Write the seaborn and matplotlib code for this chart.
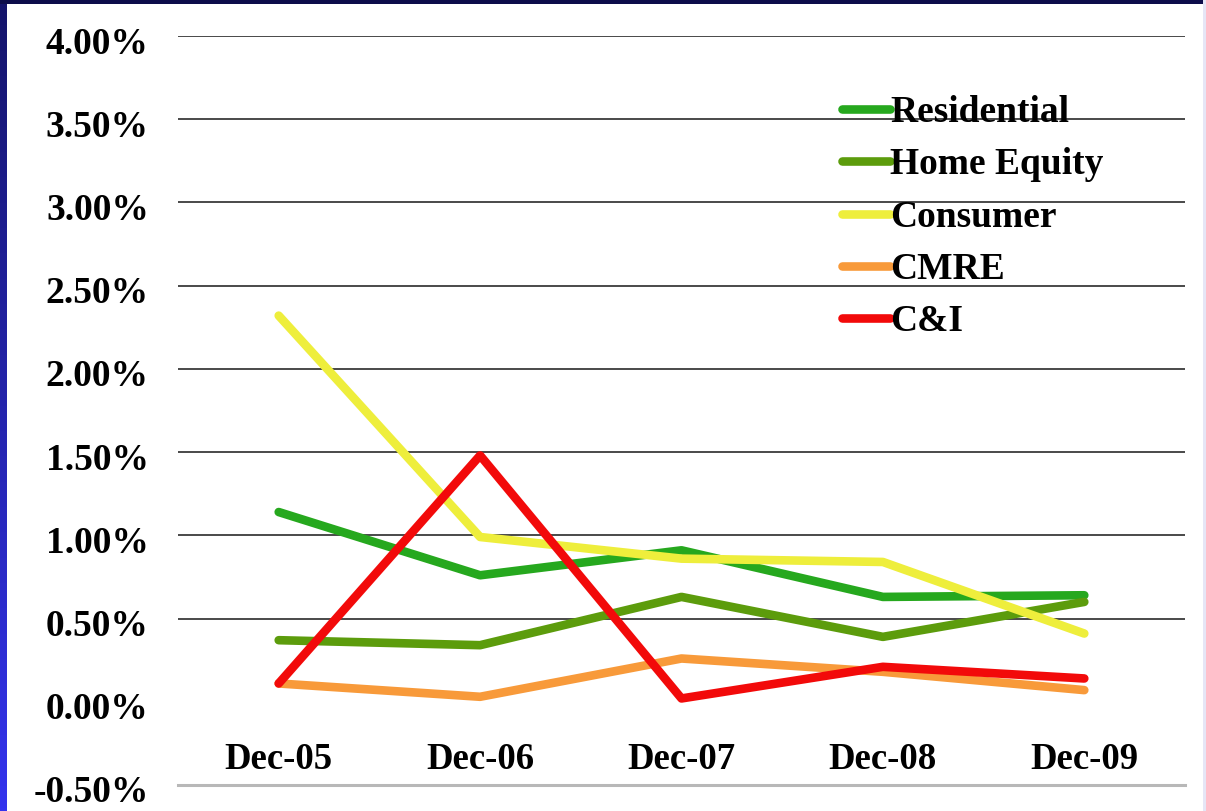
import numpy as np
import pandas as pd
import matplotlib
matplotlib.use("Agg")
import matplotlib.pyplot as plt
import matplotlib.transforms as mtransforms
from matplotlib.patches import Rectangle
import seaborn as sns

# Quarter-end dates on the category axis
periods = ["Dec-05", "Dec-06", "Dec-07", "Dec-08", "Dec-09"]

# Net charge-off rates by loan category (percent)
residential = [1.14, 0.76, 0.91, 0.63, 0.64]
home_equity = [0.37, 0.34, 0.63, 0.39, 0.60]
consumer = [2.32, 0.99, 0.86, 0.84, 0.41]
cmre = [0.11, 0.03, 0.26, 0.18, 0.07]
c_and_i = [0.11, 1.48, 0.02, 0.21, 0.14]

series_names = ["Residential", "Home Equity", "Consumer", "CMRE", "C&I"]
series_values = [residential, home_equity, consumer, cmre, c_and_i]
series_colors = ["#26a81e", "#5c9c0c", "#eeee3c", "#f89a3a", "#f20a0a"]

y_ticks = [-0.5, 0.0, 0.5, 1.0, 1.5, 2.0, 2.5, 3.0, 3.5, 4.0]

df = pd.DataFrame(
    [(name, i, v) for name, vals in zip(series_names, series_values)
     for i, v in enumerate(vals)],
    columns=["series", "pos", "value"],
)

sns.set_theme(style="white")
plt.rcParams["font.family"] = ["Liberation Serif", "DejaVu Serif"]
plt.rcParams["font.weight"] = "bold"
plt.rcParams["text.color"] = "black"
plt.rcParams["lines.solid_capstyle"] = "round"
plt.rcParams["lines.solid_joinstyle"] = "round"

fig = plt.figure(figsize=(12.06, 8.11), dpi=100)
fig.patch.set_facecolor("white")

ax = fig.add_axes([178 / 1206, 1 - 785 / 811, (1185 - 178) / 1206, (785 - 36) / 811])

sns.lineplot(
    data=df, x="pos", y="value", hue="series", hue_order=series_names,
    palette=series_colors, linewidth=6.2, sort=False, ax=ax, legend=False,
)

ax.set_xlim(-0.5, len(periods) - 0.5)
ax.set_ylim(y_ticks[0], y_ticks[-1])
ax.set_xticks(range(len(periods)))
ax.set_xticklabels(periods)
ax.set_yticks(y_ticks)
ax.set_yticklabels([f"{t:.2f}%" for t in y_ticks])
ax.set_xlabel("")
ax.set_ylabel("")

for sp in ["top", "right", "left"]:
    ax.spines[sp].set_visible(False)
ax.spines["bottom"].set_color("#b8b8b8")
ax.spines["bottom"].set_linewidth(2.2)

# Horizontal gridlines (the zero line is left out)
for t in y_ticks[1:]:
    if t == 0.0:
        continue
    ax.axhline(t, color="#3a3a3a", linewidth=1.3, zorder=0.5)

ax.tick_params(axis="y", length=0, pad=21, labelsize=27)
ax.tick_params(axis="x", length=0, pad=-31, labelsize=26.5)
shift = mtransforms.ScaledTranslation(0, -4 / 100, fig.dpi_scale_trans)
for lab in ax.get_yticklabels():
    lab.set_transform(lab.get_transform() + shift)
for lab in ax.get_xticklabels() + ax.get_yticklabels():
    lab.set_fontweight("bold")
    lab.set_color("black")

# Legend
handles = [plt.Line2D([], [], color=c, linewidth=6.2, solid_capstyle="round")
           for c in series_colors]
leg = ax.legend(
    handles, series_names, loc="upper left", bbox_to_anchor=(0.659, 0.921),
    frameon=False, handlelength=1.3, handletextpad=0.0,
    labelspacing=0.46, borderaxespad=0, borderpad=0,
    prop={"family": ["Liberation Serif"], "weight": "bold", "size": 27},
)
for txt in leg.get_texts():
    txt.set_color("black")

# Slide frame: dark top strip, blue gradient along the left edge
fig.patches.append(Rectangle((0, 1 - 4 / 811), 1, 4 / 811, transform=fig.transFigure,
                             facecolor="#0d0d4a", edgecolor="none", zorder=10))
fig.patches.append(Rectangle((1 - 3 / 1206, 0), 3 / 1206, 1, transform=fig.transFigure,
                             facecolor="#e6e6f6", edgecolor="none", zorder=10))
gax = fig.add_axes([0, 0, 7 / 1206, 1])
grad = np.linspace(0, 1, 256).reshape(-1, 1)
cmap = matplotlib.colors.LinearSegmentedColormap.from_list("edge", ["#3434ee", "#14146a"])
gax.imshow(grad, aspect="auto", cmap=cmap, origin="lower", extent=[0, 1, 0, 1])
gax.set_axis_off()

fig.savefig("out.png", dpi=100, facecolor="white")
